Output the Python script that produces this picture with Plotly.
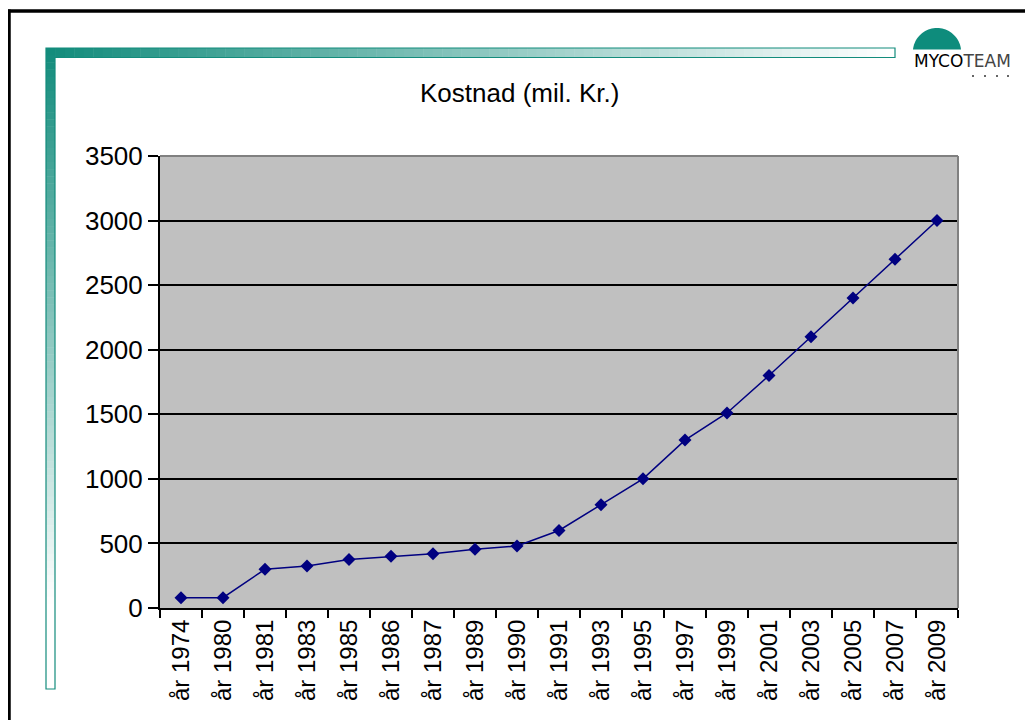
import math
import plotly.graph_objects as go

# ---- data ----
categories = ["år 1974", "år 1980", "år 1981", "år 1983", "år 1985", "år 1986",
              "år 1987", "år 1989", "år 1990", "år 1991", "år 1993", "år 1995",
              "år 1997", "år 1999", "år 2001", "år 2003", "år 2005", "år 2007",
              "år 2009"]
kostnad = [80, 80, 300, 325, 375, 400, 420, 455, 480, 600, 800, 1000,
           1300, 1510, 1800, 2100, 2400, 2700, 3000]
y_ticks = [0, 500, 1000, 1500, 2000, 2500, 3000, 3500]
title_text = "Kostnad (mil. Kr.)"

# ---- geometry (page pixels; page body has an 8px margin) ----
OFF = 8
PW, PH = 1033, 720
W, H = PW - OFF, PH - OFF
L, R, T, B = 160, 958, 156, 608


def px(X):
    return (X - L) / (R - L)


def py(Y):
    return (B - Y) / (B - T)


TEAL = (19, 140, 124)


def mix(t):
    c = [round(TEAL[i] + t * (255 - TEAL[i])) for i in range(3)]
    return "rgb(%d,%d,%d)" % tuple(c)


fig = go.Figure()
fig.add_trace(go.Scatter(
    x=categories, y=kostnad, mode="lines+markers",
    line=dict(color="#000080", width=1.5),
    marker=dict(symbol="diamond", size=10, color="#000080"),
    showlegend=False, cliponaxis=False,
))

shapes = []
# black frame (top and left)
shapes.append(dict(type="line", xref="paper", yref="paper",
                   x0=px(7), x1=px(1045), y0=py(11), y1=py(11),
                   line=dict(color="black", width=3.5)))
shapes.append(dict(type="line", xref="paper", yref="paper",
                   x0=px(9), x1=px(9), y0=py(9.5), y1=py(740),
                   line=dict(color="black", width=3.5)))

# teal L decoration with gradient
hx0, hx1, hy0, hy1 = 46, 895, 48, 57.5
N = 90
for i in range(N):
    a = hx0 + (hx1 - hx0) * i / N
    b = hx0 + (hx1 - hx0) * (i + 1) / N
    shapes.append(dict(type="rect", xref="paper", yref="paper",
                       x0=px(a), x1=px(b + 0.5), y0=py(hy1), y1=py(hy0),
                       fillcolor=mix(i / (N - 1)), line=dict(width=0)))
vx0, vx1, vy0, vy1 = 46, 55, 48, 689
for i in range(N):
    a = vy0 + (vy1 - vy0) * i / N
    b = vy0 + (vy1 - vy0) * (i + 1) / N
    shapes.append(dict(type="rect", xref="paper", yref="paper",
                       x0=px(vx0), x1=px(vx1), y0=py(b + 0.5), y1=py(a),
                       fillcolor=mix(min(1, 1.15 * i / (N - 1))), line=dict(width=0)))
outline = "M {0},{1} L {2},{1} L {2},{3} L {4},{3} L {4},{5} L {0},{5} Z".format(
    px(hx0), py(hy0), px(hx1), py(hy1), px(vx1), py(vy1))
shapes.append(dict(type="path", xref="paper", yref="paper", path=outline,
                   line=dict(color="rgb(19,140,124)", width=1.2)))

# plot area border (top / right, gray)
shapes.append(dict(type="line", xref="paper", yref="paper", x0=0, x1=1, y0=1, y1=1,
                   line=dict(color="#808080", width=2)))
shapes.append(dict(type="line", xref="paper", yref="paper", x0=1, x1=1, y0=0, y1=1,
                   line=dict(color="#808080", width=2)))

# logo dome (circle segment)
cx, cy_base = 937, 49.5
rx, top = 24, 28
hh = cy_base - top
rad = (rx ** 2 + hh ** 2) / (2 * hh)
ccy = top + rad
ang0 = math.asin(rx / rad)
M = 40
pts = []
for k in range(M + 1):
    ang = -ang0 + 2 * ang0 * k / M
    pts.append((px(cx + rad * math.sin(ang)), py(ccy - rad * math.cos(ang))))
dome = "M " + " L ".join("%f,%f" % p for p in pts) + " Z"
shapes.append(dict(type="path", xref="paper", yref="paper", path=dome,
                   fillcolor="rgb(14,140,124)", line=dict(width=0)))
# logo dots
for X in [973, 985, 997, 1008]:
    shapes.append(dict(type="circle", xref="paper", yref="paper",
                       x0=px(X - 1), x1=px(X + 1), y0=py(77), y1=py(75),
                       fillcolor="#333", line=dict(width=0)))

annotations = [
    dict(text=title_text, xref="paper", yref="paper", x=px(519), y=py(93),
         showarrow=False, font=dict(family="Arial, Liberation Sans", size=26, color="black"),
         xanchor="center", yanchor="middle"),
    dict(text="<span style='color:#000'>MYCO</span><span style='color:#444'>TEAM</span>",
         xref="paper", yref="paper",
         x=px(962.5), y=py(61.5), showarrow=False,
         font=dict(family="DejaVu Sans, Lato", size=17, color="#222"),
         xanchor="center", yanchor="middle"),
]

fig.update_layout(
    width=W, height=H,
    margin=dict(l=L - OFF, r=W - (R - OFF), t=T - OFF, b=H - (B - OFF), pad=0),
    paper_bgcolor="white", plot_bgcolor="#C0C0C0",
    shapes=shapes, annotations=annotations,
    font=dict(family="Arial, Liberation Sans", size=24, color="black"),
)
fig.update_xaxes(
    type="category", range=[-0.5, len(categories) - 0.5], tickangle=-90,
    tickson="boundaries", ticks="outside", ticklen=8, tickwidth=2, tickcolor="black",
    showline=True, linecolor="black", linewidth=2, showgrid=False,
    tickfont=dict(size=24),
)
fig.update_yaxes(
    range=[0, 3500], tickvals=y_ticks, ticks="outside", ticklen=10,
    tickwidth=2, tickcolor="black", showline=True, linecolor="black",
    linewidth=2, showgrid=True, gridcolor="black", gridwidth=1.5,
    zeroline=False, tickfont=dict(size=26),
)

fig.write_html("out.html")
